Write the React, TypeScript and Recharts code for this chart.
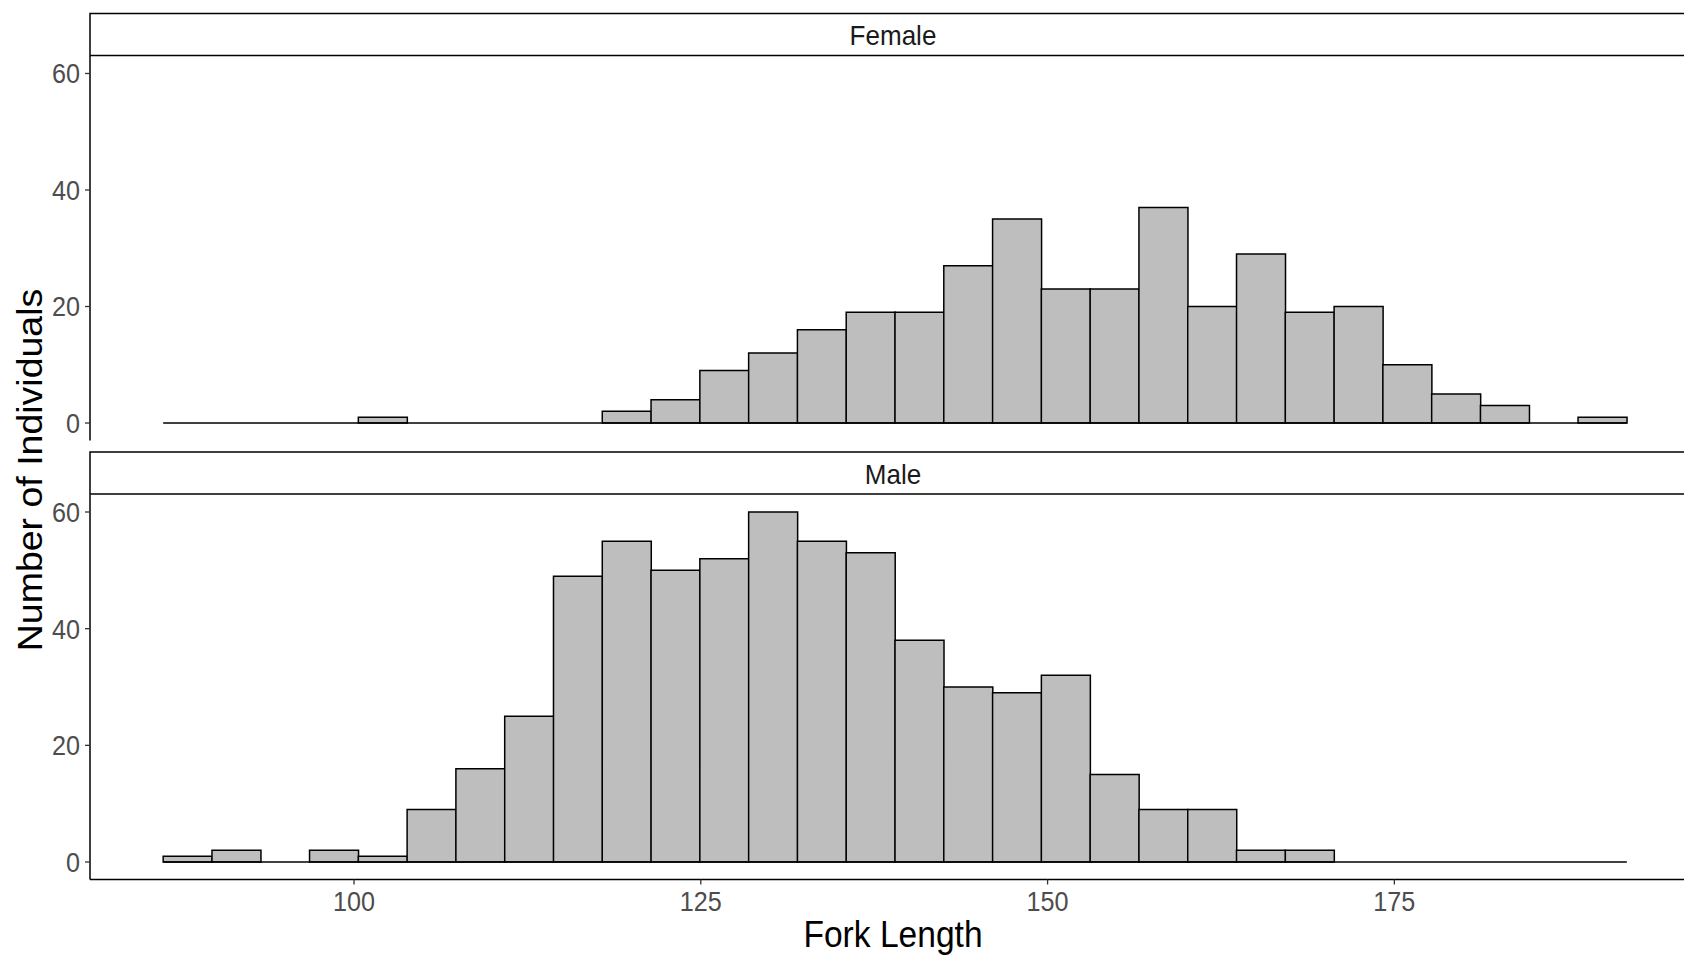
import React from 'react';
import { BarChart, Bar, XAxis, YAxis, ReferenceLine } from 'recharts';

// Histogram of fork length by sex: 30 equal-width bins shared by both facets
const binCenters = [
  88.0, 91.517, 95.034, 98.552, 102.069, 105.586, 109.103, 112.621, 116.138, 119.655,
  123.172, 126.69, 130.207, 133.724, 137.241, 140.759, 144.276, 147.793, 151.31, 154.828,
  158.345, 161.862, 165.379, 168.897, 172.414, 175.931, 179.448, 182.966, 186.483, 190.0,
];
const binWidth = 3.5172;

const femaleCounts = [
  0, 0, 0, 0, 1, 0, 0, 0, 0, 2, 4, 9, 12, 16, 19, 19, 27, 35, 23, 23, 37, 20, 29, 19, 20, 10, 5, 3, 0, 1,
];
const maleCounts = [
  1, 2, 0, 2, 1, 9, 16, 25, 49, 55, 50, 52, 60, 55, 53, 38, 30, 29, 32, 15, 9, 9, 2, 2, 0, 0, 0, 0, 0, 0,
];

const panelLabels = ['Female', 'Male'];
const xTicks = [100, 125, 150, 175];
const yTicks = [0, 20, 40, 60];
const xDomain: [number, number] = [80.966, 197.034];
const yDomain: [number, number] = [-3, 63];
const xTitle = 'Fork Length';
const yTitle = 'Number of Individuals';

const FONT = '"Liberation Sans", Arial, Helvetica, sans-serif';
const BAR_FILL = '#BEBEBE';

const toRows = (counts: number[]) => binCenters.map((bin, i) => ({ bin, count: counts[i] }));
const femaleRows = toRows(femaleCounts);
const maleRows = toRows(maleCounts);

const binLo = binCenters[0] - binWidth / 2;
const binHi = binCenters[binCenters.length - 1] + binWidth / 2;

const renderXTick = (props: any) => {
  const { x, y, payload } = props;
  return (
    <text
      transform={`translate(${x},${y}) scale(0.9,1)`}
      textAnchor="middle"
      dy="0.71em"
      fontSize={28}
      fontFamily={FONT}
      fill="#4D4D4D"
    >
      {payload.value}
    </text>
  );
};

const renderYTick = (props: any) => {
  const { x, y, payload } = props;
  return (
    <text
      transform={`translate(${x},${y}) scale(0.9,1)`}
      textAnchor="end"
      dy="0.355em"
      fontSize={28}
      fontFamily={FONT}
      fill="#4D4D4D"
    >
      {payload.value}
    </text>
  );
};

type PanelProps = {
  rows: { bin: number; count: number }[];
  top: number;
  height: number;
  marginTop: number;
  showX: boolean;
};

function Panel({ rows, top, height, marginTop, showX }: PanelProps) {
  return (
    <div style={{ position: 'absolute', left: 0, top }}>
      <BarChart
        width={1700}
        height={height}
        data={rows}
        margin={{ top: marginTop, right: 0, bottom: 0, left: 0 }}
        barCategoryGap={0}
        barGap={0}
      >
        <XAxis
          type="number"
          dataKey="bin"
          domain={xDomain}
          ticks={xTicks}
          allowDataOverflow
          interval={0}
          hide={!showX}
          height={77.5}
          tickSize={5}
          tickMargin={6.5}
          tick={renderXTick}
          axisLine={{ stroke: '#000', strokeWidth: 1.5 }}
          tickLine={{ stroke: '#333', strokeWidth: 1.3 }}
        />
        <YAxis
          type="number"
          domain={yDomain}
          ticks={yTicks}
          allowDataOverflow
          interval={0}
          width={90}
          tickSize={5}
          tickMargin={5}
          tick={renderYTick}
          axisLine={{ stroke: '#000', strokeWidth: 1.5 }}
          tickLine={{ stroke: '#333', strokeWidth: 1.3 }}
        />
        <Bar
          dataKey="count"
          fill={BAR_FILL}
          stroke="#000"
          strokeWidth={1.5}
          isAnimationActive={false}
        />
        <ReferenceLine
          segment={[
            { x: binLo, y: 0 },
            { x: binHi, y: 0 },
          ]}
          stroke="#000"
          strokeWidth={1.5}
        />
      </BarChart>
    </div>
  );
}

export default function App() {
  return (
    <div
      style={{
        position: 'absolute',
        left: 0,
        top: 0,
        width: 1684,
        height: 957,
        overflow: 'hidden',
        background: '#fff',
      }}
    >
      <Panel rows={femaleRows} top={0} height={440.5} marginTop={56} showX={false} />
      <Panel rows={maleRows} top={440} height={517} marginTop={54.5} showX />
      <svg
        width={1684}
        height={957}
        style={{ position: 'absolute', left: 0, top: 0, pointerEvents: 'none' }}
      >
        {/* facet strips */}
        <rect x={90} y={13.5} width={1640} height={42} fill="#fff" stroke="#000" strokeWidth={1.5} />
        <rect x={90} y={452} width={1640} height={42} fill="#fff" stroke="#000" strokeWidth={1.5} />
        <text
          transform="translate(893,45) scale(0.93,1)"
          textAnchor="middle"
          fontSize={28}
          fontFamily={FONT}
          fill="#1A1A1A"
        >
          {panelLabels[0]}
        </text>
        <text
          transform="translate(893,483.5) scale(0.93,1)"
          textAnchor="middle"
          fontSize={28}
          fontFamily={FONT}
          fill="#1A1A1A"
        >
          {panelLabels[1]}
        </text>
        {/* axis titles */}
        <text
          transform="translate(893,947) scale(0.92,1)"
          textAnchor="middle"
          fontSize={36.5}
          fontFamily={FONT}
          fill="#000"
        >
          {xTitle}
        </text>
        <text
          transform="translate(42,470) scale(0.92,1) rotate(-90)"
          textAnchor="middle"
          fontSize={37.5}
          fontFamily={FONT}
          fill="#000"
        >
          {yTitle}
        </text>
      </svg>
    </div>
  );
}
